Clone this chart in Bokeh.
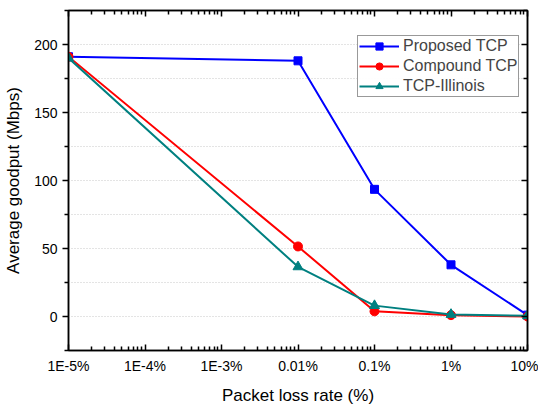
from bokeh.plotting import figure
from bokeh.models import (FixedTicker, CustomJSTickFormatter, LogAxis, LinearAxis,
                          Legend, LegendItem)
from bokeh.embed import file_html
from bokeh.resources import INLINE

# Data
loss_rates = [1e-5, 1e-2, 1e-1, 1.0, 10.0]
proposed = [191, 188, 93.5, 38, 1]
compound = [191, 51.5, 3.8, 1, 0]
illinois = [190, 36.5, 8, 1.5, 0.5]
tick_values = [1e-5, 1e-4, 1e-3, 1e-2, 1e-1, 1.0, 10.0]
tick_labels = ["1E-5%", "1E-4%", "1E-3%", "0.01%", "0.1%", "1%", "10%"]
y_ticks = [0, 50, 100, 150, 200]

FONT = "Liberation Sans"

p = figure(width=538, height=407, x_axis_type="log", x_range=(1e-5, 10),
           y_range=(-25, 225), output_backend="svg", toolbar_location=None,
           min_border_left=68, min_border_right=11, min_border_top=10,
           min_border_bottom=54)
p.outline_line_color = "black"
p.outline_line_width = 1.5

minor_x = []
for e in range(-5, 1):
    for m in range(2, 10):
        minor_x.append(m * 10.0 ** e)
x_ticker = FixedTicker(ticks=tick_values, minor_ticks=minor_x)
y_ticker = FixedTicker(ticks=y_ticks, minor_ticks=[-25, 25, 75, 125, 175, 225])

fmt = CustomJSTickFormatter(args=dict(labels=tick_labels), code="""
    const i = Math.round(Math.log10(tick)) + 5;
    return (i >= 0 && i < labels.length) ? labels[i] : '';
""")
blank = CustomJSTickFormatter(code="return '';")

xa = p.xaxis[0]
xa.ticker = x_ticker
xa.formatter = fmt
xa.axis_label = "Packet loss rate (%)"
ya = p.yaxis[0]
ya.ticker = y_ticker
ya.axis_label = "Average goodput (Mbps)"

for ax in (xa, ya):
    ax.axis_line_width = 1.5
    ax.major_tick_line_width = 1.5
    ax.minor_tick_line_width = 1.5
    ax.major_label_text_font = FONT
    ax.major_label_text_font_size = "14px"
    ax.axis_label_text_font = FONT
    ax.axis_label_text_font_size = "17px"
    ax.axis_label_text_font_style = "normal"
    ax.major_label_text_color = "black"
    ax.axis_label_text_color = "black"

xa.major_tick_in = 6
xa.major_tick_out = 0
xa.minor_tick_in = 4
xa.minor_tick_out = 0
xa.major_label_standoff = 7
xa.axis_label_standoff = 9
ya.major_tick_in = 0
ya.major_tick_out = 6
ya.minor_tick_in = 0
ya.minor_tick_out = 4
ya.major_label_standoff = 5
ya.axis_label_standoff = 8

top = LogAxis(ticker=x_ticker, formatter=blank, major_label_text_font_size="0px",
              major_label_standoff=0,
              major_tick_in=6, major_tick_out=0, minor_tick_in=4, minor_tick_out=0,
              axis_line_width=1.5, major_tick_line_width=1.5, minor_tick_line_width=1.5)
p.add_layout(top, "above")
right = LinearAxis(ticker=y_ticker, formatter=blank, major_label_text_font_size="0px",
                   major_label_standoff=0,
                   major_tick_in=6, major_tick_out=0, minor_tick_in=4, minor_tick_out=0,
                   axis_line_width=1.5, major_tick_line_width=1.5, minor_tick_line_width=1.5)
p.add_layout(right, "right")

p.xgrid.grid_line_color = None
p.ygrid.grid_line_color = "#c8c8c8"
p.ygrid.grid_line_dash = "1 2"
p.ygrid.minor_grid_line_color = "#c8c8c8"
p.ygrid.minor_grid_line_dash = "1 2"

l1 = p.line(loss_rates, proposed, line_color="#0000ff", line_width=2)
m1 = p.scatter(loss_rates, proposed, marker="square", size=8, color="#0000ff")
l2 = p.line(loss_rates, compound, line_color="#ff0000", line_width=2)
m2 = p.scatter(loss_rates, compound, marker="circle", size=9, color="#ff0000")
l3 = p.line(loss_rates, illinois, line_color="#008080", line_width=2)
m3 = p.scatter(loss_rates, illinois, marker="triangle", size=10, color="#008080")

legend = Legend(items=[
    LegendItem(label="Proposed TCP", renderers=[l1, m1]),
    LegendItem(label="Compound TCP", renderers=[l2, m2]),
    LegendItem(label="TCP-Illinois", renderers=[l3, m3]),
], location=(289, 253))
legend.label_text_font = FONT
legend.label_text_font_size = "16px"
legend.glyph_width = 40
legend.glyph_height = 18
legend.label_standoff = 4
legend.spacing = 2
legend.padding = 1
legend.margin = 0
legend.border_line_color = "#333333"
legend.border_line_width = 1
legend.label_height = 18
p.add_layout(legend, "center")

open("out.html", "w").write(file_html(p, INLINE))
